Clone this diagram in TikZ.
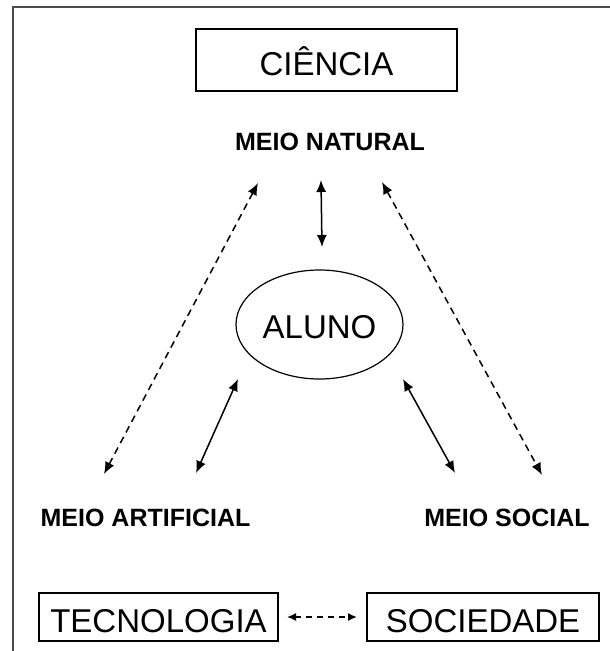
\documentclass[tikz,border=0pt]{standalone}
\usepackage{fontspec}
\setmainfont{Liberation Sans}
\usetikzlibrary{arrows.meta,shapes.geometric}
\tikzset{
  bigbox/.style={draw, line width=1.3pt, inner sep=0pt,
    font=\fontsize{33}{36}\selectfont, text height=30pt, text depth=0pt},
  meiolabel/.style={font=\fontsize{25}{28}\selectfont\bfseries, inner sep=0pt,
    text height=17.9pt, text depth=0pt},
  solidarrow/.style={{Latex[length=12pt,width=10pt]}-{Latex[length=12pt,width=10pt]}, line width=1.5pt},
  dasharrow/.style={solidarrow, dash pattern=on 7pt off 5pt},
  smalldash/.style={{Latex[length=9pt,width=8pt]}-{Latex[length=9pt,width=8pt]}, line width=1.5pt, dash pattern=on 6pt off 5pt},
  frameline/.style={draw=black!70, line width=2pt},
}
\begin{document}
\begin{tikzpicture}[x=1pt,y=-1pt]
\useasboundingbox (0,0) rectangle (610,651);
\draw[frameline] (12.7,651) -- (12.7,6.7) -- (610,6.7);

\node[bigbox, minimum width=261pt, minimum height=62pt] (ciencia) at (326.5,60) {CIÊNCIA};
\node[meiolabel] (natural) at (330,141.5) {MEIO NATURAL};
\node[draw, ellipse, line width=1.2pt, inner sep=0pt, minimum width=167pt, minimum height=109pt,
  font=\fontsize{33}{36}\selectfont, text height=27.6pt, text depth=0pt] (aluno) at (319.5,324.5) {ALUNO};
\node[meiolabel] (artificial) at (145.5,517.5) {MEIO ARTIFICIAL};
\node[meiolabel] (social) at (507,517.5) {MEIO SOCIAL};
\node[bigbox, minimum width=239pt, minimum height=48pt] (tecnologia) at (158.5,617) {TECNOLOGIA};
\node[bigbox, minimum width=232pt, minimum height=48pt] (sociedade) at (483,617) {SOCIEDADE};

\coordinate (ldTop) at (258,183);
\coordinate (ldBot) at (104,474);
\coordinate (vTop) at (321,180);
\coordinate (vBot) at (322,247);
\coordinate (rdTop) at (382,182);
\coordinate (rdBot) at (542,475);
\coordinate (lsTop) at (238,379);
\coordinate (lsBot) at (196,473);
\coordinate (rsTop) at (403,379);
\coordinate (rsBot) at (455,473);
\coordinate (bL) at (287,617);
\coordinate (bR) at (357,617);

\draw[dasharrow] (ldTop) -- (ldBot);
\draw[solidarrow] (vTop) -- (vBot);
\draw[dasharrow] (rdTop) -- (rdBot);
\draw[solidarrow] (lsTop) -- (lsBot);
\draw[solidarrow] (rsTop) -- (rsBot);
\draw[smalldash] (bL) -- (bR);
\end{tikzpicture}
\end{document}
